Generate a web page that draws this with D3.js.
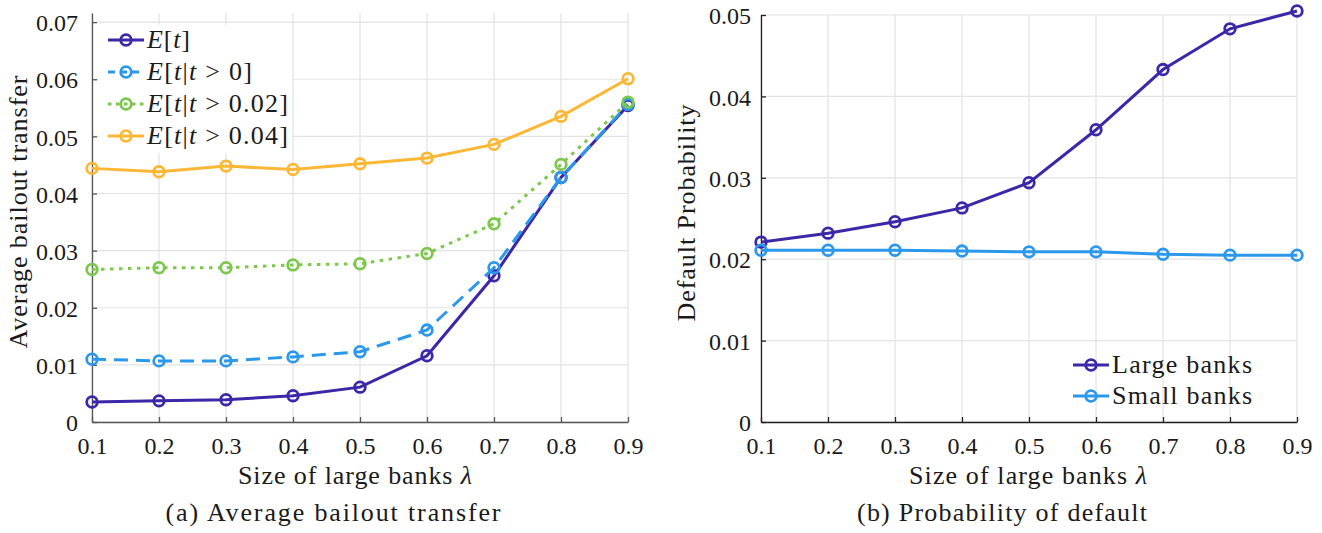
<!DOCTYPE html>
<html><head><meta charset="utf-8">
<script src="https://cdn.jsdelivr.net/npm/d3@7"></script>
</head>
<body style="margin:0;background:#fff"><svg id="c" width="1322" height="533"></svg>
<script>
const lambdas = [0.1,0.2,0.3,0.4,0.5,0.6,0.7,0.8,0.9];
const xTicks = ["0.1","0.2","0.3","0.4","0.5","0.6","0.7","0.8","0.9"];
const leftYTicks = [0,0.01,0.02,0.03,0.04,0.05,0.06,0.07];
const rightYTicks = [0,0.01,0.02,0.03,0.04,0.05];

const eT      = [0.0035,0.0037,0.0039,0.0046,0.0061,0.0116,0.0256,0.0428,0.0554];
const eTgt0   = [0.0110,0.0107,0.0107,0.0114,0.0123,0.0161,0.0270,0.0428,0.0556];
const eTgt002 = [0.0267,0.0270,0.0270,0.0275,0.0277,0.0295,0.0347,0.0451,0.0560];
const eTgt004 = [0.0444,0.0438,0.0448,0.0442,0.0452,0.0462,0.0486,0.0535,0.0601];

const largeBanks = [0.0221,0.0232,0.0246,0.0263,0.0294,0.0359,0.0433,0.0483,0.0505];
const smallBanks = [0.0211,0.0211,0.0211,0.0210,0.0209,0.0209,0.0206,0.0205,0.0205];

const C = {purple:"#3c27a9", blue:"#2b98ec", green:"#7cc74c", orange:"#fcb735"};
const FONT = '"Liberation Serif"';
const FS = 24;
const LFS = 26;

const svg = d3.select("#c");
function F(sel,size){ return sel.style("font-family",FONT).style("font-size",(size||FS)+"px").attr("fill","#1a1a1a"); }
function fit(sel,w){ return sel.attr("textLength",w).attr("lengthAdjust","spacing"); }

function panel(opt){
  const g = svg.append("g");
  const x = d3.scaleLinear().domain([0.1,0.9]).range([opt.x0,opt.x1]);
  const y = d3.scaleLinear().domain([0,opt.ymax]).range([opt.yb,opt.yt]);
  g.append("g").selectAll("line").data(lambdas).join("line")
    .attr("x1",d=>x(d)).attr("x2",d=>x(d)).attr("y1",opt.yb).attr("y2",opt.yt)
    .attr("stroke","#e3e3e3").attr("stroke-width",1.2);
  g.append("g").selectAll("line").data(opt.yticks).join("line")
    .attr("x1",opt.x0).attr("x2",opt.x1).attr("y1",d=>y(d)).attr("y2",d=>y(d))
    .attr("stroke","#e3e3e3").attr("stroke-width",1.2);
  const xa = g.append("g").attr("transform",`translate(0,${opt.yb})`)
    .call(d3.axisBottom(x).tickValues(lambdas).tickFormat((d,i)=>xTicks[i]).tickSizeInner(-5).tickSizeOuter(0).tickPadding(10));
  const ya = g.append("g").attr("transform",`translate(${opt.x0},0)`)
    .call(d3.axisLeft(y).tickValues(opt.yticks).tickFormat(d=>d===0?"0":d3.format(".2f")(d)).tickSizeInner(-5).tickSizeOuter(0).tickPadding(opt.tpad));
  [xa,ya].forEach(a=>{
    a.attr("font-family",null).attr("font-size",null);
    a.select(".domain").attr("stroke",opt.axisColor).attr("stroke-width",1.3);
    a.selectAll(".tick line").attr("stroke",opt.axisColor).attr("stroke-width",1.3);
    F(a.selectAll("text"));
  });
  xa.selectAll("text").attr("dy","0.9em");
  ya.selectAll("text").attr("dy","0.36em");
  const xl = F(g.append("text").attr("x",opt.xlc).attr("y",484).attr("text-anchor","middle"),LFS);
  xl.append("tspan").text("Size of large banks ");
  xl.append("tspan").style("font-style","italic").text("λ");
  fit(xl,opt.xlw);
  fit(F(g.append("text").attr("transform",`translate(${opt.ylx},${opt.ylc}) rotate(-90)`)
    .attr("text-anchor","middle").text(opt.ylabel),LFS),opt.ylw);
  fit(F(g.append("text").attr("x",opt.capx).attr("y",521).attr("text-anchor","middle")
    .text(opt.caption),LFS),opt.capw);
  return {g,x,y};
}

function series(p, vals, s){
  const line = d3.line().x((d,i)=>p.x(lambdas[i])).y(d=>p.y(d));
  const path = p.g.append("path").datum(vals).attr("d",line).attr("fill","none")
    .attr("stroke",s.color).attr("stroke-width",3);
  if(s.dash) path.attr("stroke-dasharray",s.dash);
  p.g.append("g").selectAll("circle").data(vals).join("circle")
    .attr("cx",(d,i)=>p.x(lambdas[i])).attr("cy",d=>p.y(d)).attr("r",5.3)
    .attr("fill","none").attr("stroke",s.color).attr("stroke-width",2.8);
}

function legend(p, items, lx, ly0, dy, bg){
  const lg = p.g.append("g");
  if(bg) lg.append("rect").attr("x",bg[0]).attr("y",bg[1]).attr("width",bg[2]).attr("height",bg[3]).attr("fill","#fff");
  items.forEach((it,i)=>{
    const yy = ly0 + i*dy;
    const l = lg.append("line").attr("x1",lx).attr("x2",lx+36).attr("y1",yy).attr("y2",yy)
      .attr("stroke",it.color).attr("stroke-width",3);
    if(it.ldash) l.attr("stroke-dasharray",it.ldash);
    lg.append("circle").attr("cx",lx+18).attr("cy",yy).attr("r",5.3).attr("fill","none")
      .attr("stroke",it.color).attr("stroke-width",2.8);
    const t = F(lg.append("text").attr("x",lx+39).attr("y",yy+8),LFS);
    it.label(t);
    fit(t,it.w);
  });
}

const pa = panel({x0:92,x1:628,yb:422,yt:13,ymax:0.0716,yticks:leftYTicks,axisColor:"#555",tpad:14,
  xlc:355,xlw:234,ylabel:"Average bailout transfer",ylx:27,ylc:212,ylw:273,
  caption:"(a) Average bailout transfer",capx:333,capw:335});
[
  {vals:eT,color:C.purple},
  {vals:eTgt0,color:C.blue,dash:"14,8"},
  {vals:eTgt002,color:C.green,dash:"3.5,5.5"},
  {vals:eTgt004,color:C.orange}
].forEach(s=>series(pa,s.vals,s));

function eLabel(cond){
  return t=>{
    t.append("tspan").style("font-style","italic").text("E");
    t.append("tspan").text("[");
    t.append("tspan").style("font-style","italic").text("t");
    if(cond!==null){
      t.append("tspan").text("|");
      t.append("tspan").style("font-style","italic").text("t");
      t.append("tspan").text(" > "+cond);
    }
    t.append("tspan").text("]");
  };
}
legend(pa,[
  {color:C.purple,label:eLabel(null),w:43},
  {color:C.blue,ldash:"7,5",label:eLabel("0"),w:105},
  {color:C.green,ldash:"3.5,4.5",label:eLabel("0.02"),w:141},
  {color:C.orange,label:eLabel("0.04"),w:141}
],108,40,32,[99,25,193,128]);

const pb = panel({x0:761,x1:1297,yb:422,yt:15,ymax:0.05,yticks:rightYTicks,axisColor:"#222",tpad:10,
  xlc:1028,xlw:238,ylabel:"Default Probability",ylx:695,ylc:213,ylw:217,
  caption:"(b) Probability of default",capx:1002,capw:290});
series(pb,largeBanks,{color:C.purple});
series(pb,smallBanks,{color:C.blue});
legend(pb,[
  {color:C.purple,label:t=>t.text("Large banks"),w:140},
  {color:C.blue,label:t=>t.text("Small banks"),w:140}
],1073,365,31,null);
</script></body></html>
